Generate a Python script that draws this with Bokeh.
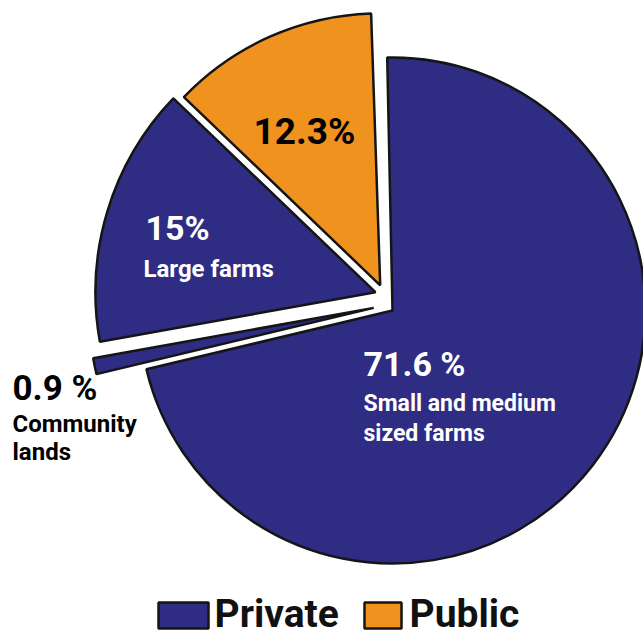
import numpy as np
from bokeh.plotting import figure
from bokeh.models import Range1d
from bokeh.core.properties import value
from bokeh.embed import file_html
from bokeh.resources import INLINE

# ---------------- data ----------------
categories = ["Small and medium sized farms", "Community lands", "Large farms", "Public"]
shares = [71.6, 0.9, 15.0, 12.3]
groups = ["Private", "Private", "Private", "Public"]
pct_labels = ["71.6 %", "0.9 %", "15%", "12.3%"]
name_lines = [["Small and medium", "sized farms"], ["Community", "lands"], ["Large farms"], []]
legend_labels = ["Private", "Public"]

# ---------------- style / layout ----------------
W, H = 643, 638
FONT = "Roboto"
COLORS = {"Private": "#2E2C83", "Public": "#F0921E"}
OUTLINE = "#151515"
START_DEG = 91.2
CENTER = (392, H - 310)
RADII = [253, 285, 280, 272]
EXPLODE = [(0, 0), (19, 172), (25, 133), (28, 116)]  # (distance, direction deg)
BASE_FIX = 0.4  # renderer places alphabetic baseline ~0.4em low; compensate

# label layout (screen px: left x, baseline y, size, colour)
PCT_POS = [(363, 377, 34, "white"), (12, 402, 35, "black"), (145, 241, 34, "white"), (253, 146, 37, "black")]
NAME_POS = [(363, 412, 23, "white", 30), (12, 433, 24, "black", 28), (143, 278, 24, "white", 0), (0, 0, 0, "white", 0)]

p = figure(width=W, height=H, x_range=Range1d(0, W), y_range=Range1d(0, H),
           output_backend="svg", toolbar_location=None, min_border=0)
p.axis.visible = False
p.grid.visible = False
p.outline_line_color = None
p.background_fill_color = "white"
p.border_fill_color = "white"

# wedges
fr = np.array(shares) / 100.0
ends = START_DEG - np.cumsum(fr) * 360.0
starts = np.concatenate([[START_DEG], ends[:-1]])
for i in range(len(shares)):
    d, a = EXPLODE[i]
    cx = CENTER[0] + d * np.cos(np.radians(a))
    cy = CENTER[1] + d * np.sin(np.radians(a))
    p.wedge(x=[cx], y=[cy], radius=RADII[i], start_angle=[np.radians(starts[i])],
            end_angle=[np.radians(ends[i])], direction="clock",
            fill_color=COLORS[groups[i]], line_color=OUTLINE, line_width=2.5)


def put(txt, x, y, s, c):
    p.text(x=[x], y=[H - (y - BASE_FIX * s)], text=[txt], text_font=value(FONT), text_font_style="bold",
           text_font_size=f"{s}px", text_color=c, text_baseline="alphabetic", text_align="left")


# labels
for i in range(len(shares)):
    x, y, s, c = PCT_POS[i]
    put(pct_labels[i], x, y, s, c)
    x, y, s, c, lh = NAME_POS[i]
    for j, line in enumerate(name_lines[i]):
        put(line, x, y + j * lh, s, c)

# legend
LEG = [(158, 602, 50, 26, 214), (364, 602, 37, 26, 409)]  # box left, top, w, h, text x
for k, lab in enumerate(legend_labels):
    bx, by, bw, bh, tx = LEG[k]
    p.rect(x=[bx + bw / 2], y=[H - (by + bh / 2)], width=bw, height=bh,
           fill_color=COLORS[lab], line_color=OUTLINE, line_width=2.5)
    put(lab, tx, 629, 39, "#111111")

open("out.html", "w").write(file_html(p, INLINE))
